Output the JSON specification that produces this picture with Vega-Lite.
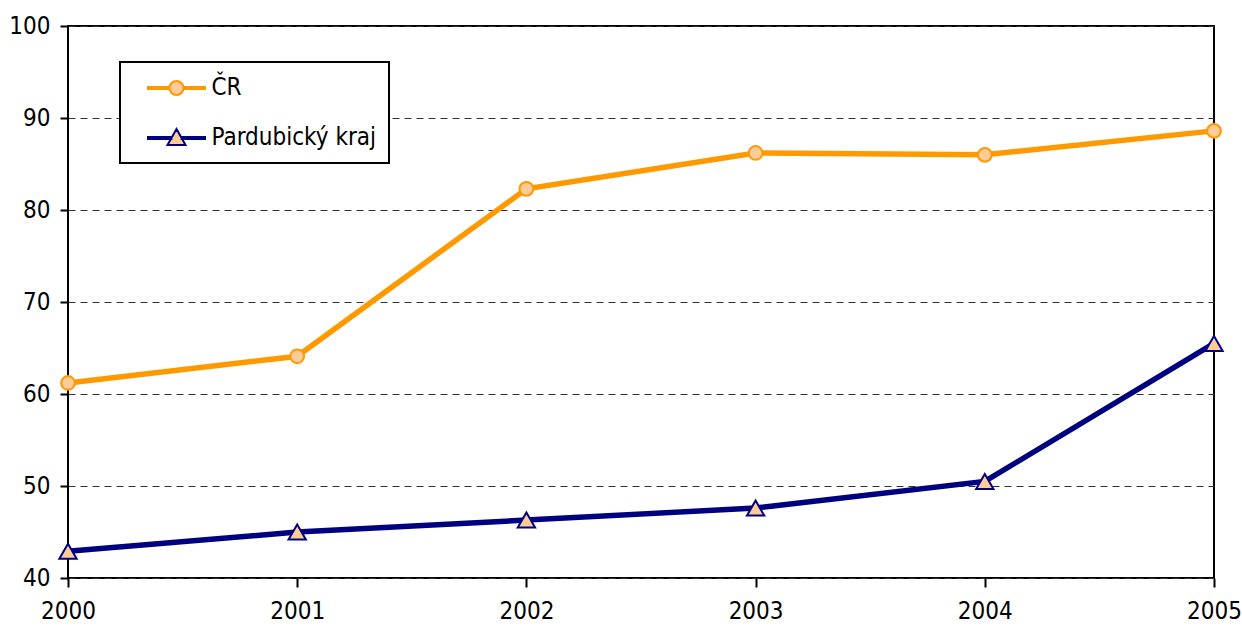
{
  "$schema": "https://vega.github.io/schema/vega-lite/v6.json",
  "width": 1146,
  "height": 552,
  "autosize": {"type": "none"},
  "padding": {"left": 68, "top": 26, "right": 28, "bottom": 54},
  "background": "white",
  "config": {
    "view": {"stroke": "black", "strokeWidth": 2},
    "font": "Liberation Sans Narrow, Arial Narrow, DejaVu Sans Condensed, sans-serif",
    "legend": {"strokeWidth": 2}
  },
  "data": {
    "values": [
      {"year": 2000, "series": "ČR", "value": 61.2},
      {"year": 2001, "series": "ČR", "value": 64.1},
      {"year": 2002, "series": "ČR", "value": 82.3},
      {"year": 2003, "series": "ČR", "value": 86.2},
      {"year": 2004, "series": "ČR", "value": 86.0},
      {"year": 2005, "series": "ČR", "value": 88.6},
      {"year": 2000, "series": "Pardubický kraj", "value": 42.9},
      {"year": 2001, "series": "Pardubický kraj", "value": 45.0},
      {"year": 2002, "series": "Pardubický kraj", "value": 46.3},
      {"year": 2003, "series": "Pardubický kraj", "value": 47.6},
      {"year": 2004, "series": "Pardubický kraj", "value": 50.5},
      {"year": 2005, "series": "Pardubický kraj", "value": 65.5}
    ]
  },
  "encoding": {
    "x": {
      "field": "year", "type": "quantitative",
      "scale": {"domain": [2000, 2005], "nice": false, "zero": false},
      "axis": {
        "title": null, "values": [2000, 2001, 2002, 2003, 2004, 2005], "format": "d",
        "grid": false, "domain": false, "ticks": true, "tickSize": 9, "tickWidth": 2, "tickColor": "black",
        "labelFontSize": 24, "labelColor": "black", "labelPadding": 12, "labelFlush": false, "labelOverlap": false
      }
    },
    "y": {
      "field": "value", "type": "quantitative",
      "scale": {"domain": [40, 100], "nice": false, "zero": false},
      "axis": {
        "title": null, "values": [40, 50, 60, 70, 80, 90, 100],
        "grid": true, "gridDash": [7, 5], "gridColor": "#333333", "gridWidth": 1,
        "domain": false, "ticks": true, "tickSize": 8, "tickWidth": 2, "tickColor": "black",
        "labelFontSize": 24, "labelColor": "black", "labelPadding": 10
      }
    }
  },
  "layer": [
    {
      "transform": [{"filter": "datum.series === 'ČR'"}],
      "mark": {"type": "line", "strokeWidth": 5.5, "stroke": "#FF9900"}
    },
    {
      "transform": [{"filter": "datum.series === 'Pardubický kraj'"}],
      "mark": {"type": "line", "strokeWidth": 5.5, "stroke": "#000080"}
    },
    {
      "transform": [{"filter": "datum.series === 'ČR'"}],
      "mark": {"type": "point", "shape": "circle", "size": 190, "filled": true, "fill": "#FFCC99", "fillOpacity": 1, "stroke": "#FF9900", "strokeWidth": 2, "opacity": 1}
    },
    {
      "transform": [{"filter": "datum.series === 'Pardubický kraj'"}],
      "mark": {"type": "point", "shape": "triangle-up", "size": 300, "filled": true, "fill": "#FFCC99", "fillOpacity": 1, "stroke": "#000080", "strokeWidth": 2, "opacity": 1}
    },
    {
      "transform": [{"filter": "false"}],
      "mark": {"type": "point", "filled": true, "fill": "#FFCC99", "fillOpacity": 1, "strokeWidth": 2, "opacity": 1},
      "encoding": {
        "stroke": {
          "field": "series", "type": "nominal",
          "scale": {"domain": ["ČR", "Pardubický kraj"], "range": ["#FF9900", "#000080"]},
          "legend": {
            "orient": "none", "legendX": 52, "legendY": 36, "title": null,
            "strokeColor": "black", "fillColor": "white", "padding": 13,
            "labelFontSize": 24, "labelColor": "black", "labelLimit": 400,
            "symbolSize": 576, "symbolOffset": 30.5, "labelOffset": 22, "rowPadding": 25,
            "symbolStrokeWidth": 2, "symbolFillColor": "#FFCC99", "symbolOpacity": 1,
            "labelExpr": "datum.label + '   '"
          }
        },
        "shape": {
          "field": "series", "type": "nominal",
          "scale": {
            "domain": ["ČR", "Pardubický kraj"],
            "range": [
              "M -2.375 -0.083 L -0.58 -0.083 L -0.58 0.083 L -2.375 0.083 Z M 0.58 -0.083 L 2.375 -0.083 L 2.375 0.083 L 0.58 0.083 Z M -0.583 0 A 0.583 0.583 0 1 0 0.583 0 A 0.583 0.583 0 1 0 -0.583 0 Z",
              "M -2.375 -0.083 L -0.42 -0.083 L -0.42 0.083 L -2.375 0.083 Z M 0.42 -0.083 L 2.375 -0.083 L 2.375 0.083 L 0.42 0.083 Z M 0 -0.75 L 0.75 0.58 L -0.75 0.58 Z"
            ]
          },
          "legend": {
            "orient": "none", "legendX": 52, "legendY": 36, "title": null,
            "strokeColor": "black", "fillColor": "white", "padding": 13,
            "labelFontSize": 24, "labelColor": "black", "labelLimit": 400,
            "symbolSize": 576, "symbolOffset": 30.5, "labelOffset": 22, "rowPadding": 25,
            "symbolStrokeWidth": 2, "symbolFillColor": "#FFCC99", "symbolOpacity": 1,
            "labelExpr": "datum.label + '   '"
          }
        }
      }
    }
  ]
}
